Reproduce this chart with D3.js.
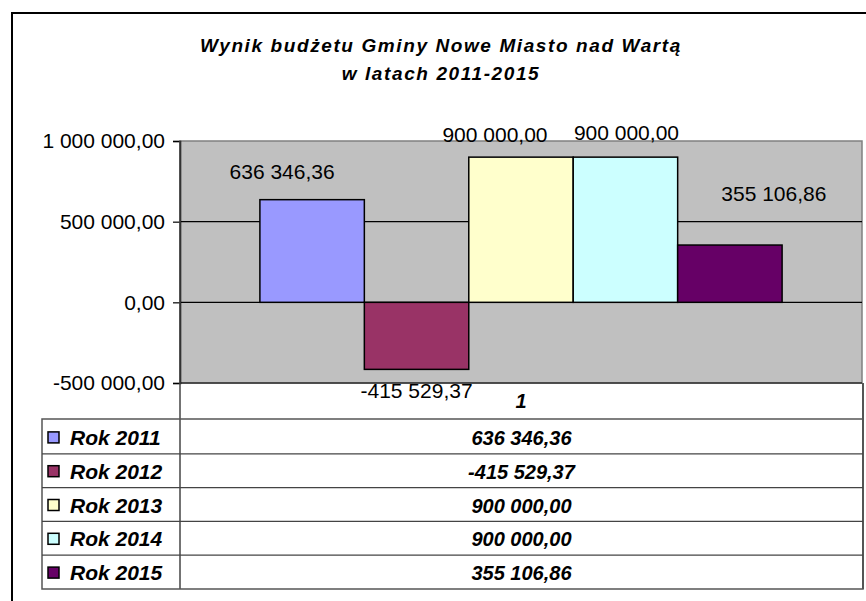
<!DOCTYPE html>
<meta charset="utf-8">
<script src="https://d3js.org/d3.v7.min.js"></script>
<style>
  body { margin: 0; background: #fff; }
  text { font-family: "Liberation Sans", Arial, sans-serif; }
</style>
<div id="chart"></div>
<script>
// data
var series = ["Rok 2011", "Rok 2012", "Rok 2013", "Rok 2014", "Rok 2015"];
var values = [636346.36, -415529.37, 900000.00, 900000.00, 355106.86];
var categories = ["1"];
var yTicks = [-500000, 0, 500000, 1000000];
var colors = ["#9999FF", "#993366", "#FFFFCC", "#CCFFFF", "#660066"];

// label nudges (dx, dy from bar end) - the labels were moved by hand in the original
var labelShift = [[-30, -21], [0, 29], [-26, -15], [1, -17], [44, -44]];

var W = 866, H = 601;
var plot = {left: 180, right: 862, top: 141, bottom: 383};

var pl = d3.formatLocale({decimal: ",", thousands: " ", grouping: [3], currency: ["", ""], minus: "-"});
var fmt = pl.format(",.2f");

var svg = d3.select("#chart").append("svg")
    .attr("width", W)
    .attr("height", H);

svg.append("rect").attr("width", W).attr("height", H).attr("fill", "#fff");

// chart frame (right and bottom run off the page)
svg.append("path")
    .attr("d", "M12,601 L12,13 L866,13")
    .attr("fill", "none")
    .attr("stroke", "#000")
    .attr("stroke-width", 2);

// title
var title = svg.append("text")
    .attr("text-anchor", "middle")
    .style("font-size", "19px")
    .style("font-weight", "bold")
    .style("font-style", "italic")
    .style("letter-spacing", "1.6px");
title.append("tspan").attr("x", 441).attr("y", 52).text("Wynik budżetu Gminy Nowe Miasto nad Wartą");
title.append("tspan").attr("x", 441).attr("y", 80).text("w latach 2011-2015");

// scales
var y = d3.scaleLinear()
    .domain([-500000, 1000000])
    .range([plot.bottom, plot.top]);

var x0 = d3.scaleBand()
    .domain(categories)
    .range([plot.left, plot.right])
    .paddingOuter(0.153)
    .paddingInner(0);

var x1 = d3.scaleBand()
    .domain(series)
    .range([0, x0.bandwidth()])
    .padding(0);

// plot area
svg.append("rect")
    .attr("x", plot.left)
    .attr("y", plot.top)
    .attr("width", plot.right - plot.left)
    .attr("height", plot.bottom - plot.top)
    .attr("fill", "#C0C0C0")
    .attr("stroke", "#808080")
    .attr("stroke-width", 1.5);

// gridlines
svg.selectAll(".grid")
  .data(yTicks.filter(function(d) { return d < 1000000; }))
  .enter()
  .append("line")
    .attr("x1", plot.left)
    .attr("x2", plot.right)
    .attr("y1", function(d) { return y(d); })
    .attr("y2", function(d) { return y(d); })
    .attr("stroke", "#000")
    .attr("stroke-width", 1.2);

// y axis
var yAxis = svg.append("g")
    .attr("transform", "translate(" + plot.left + ",0)")
    .call(d3.axisLeft(y).tickValues(yTicks).tickFormat(fmt).tickSize(7).tickPadding(8));
yAxis.select(".domain").attr("stroke", "#000").attr("stroke-width", 1.5);
yAxis.selectAll(".tick line").attr("stroke", "#000").attr("stroke-width", 1.2);
yAxis.selectAll("text")
    .style("font-size", "21px")
    .style("font-family", "'Liberation Sans', Arial, sans-serif")
    .attr("fill", "#000");

// bars
var g = svg.append("g").attr("transform", "translate(" + x0("1") + ",0)");
g.selectAll("rect")
  .data(values)
  .enter()
  .append("rect")
    .attr("x", function(d, i) { return x1(series[i]); })
    .attr("y", function(d) { return y(Math.max(0, d)); })
    .attr("width", x1.bandwidth())
    .attr("height", function(d) { return Math.abs(y(d) - y(0)); })
    .attr("fill", function(d, i) { return colors[i]; })
    .attr("stroke", "#000")
    .attr("stroke-width", 1.5);

// data labels
g.selectAll(".lbl")
  .data(values)
  .enter()
  .append("text")
    .attr("x", function(d, i) { return x1(series[i]) + x1.bandwidth() / 2 + labelShift[i][0]; })
    .attr("y", function(d, i) { return y(d) + labelShift[i][1]; })
    .attr("text-anchor", "middle")
    .style("font-size", "21px")
    .text(function(d) { return fmt(d); });

// category label
svg.append("text")
    .attr("x", x0("1") + x0.bandwidth() / 2)
    .attr("y", 408)
    .attr("text-anchor", "middle")
    .style("font-size", "20px")
    .style("font-weight", "bold")
    .style("font-style", "italic")
    .text(categories[0]);

// data table
var tbl = {left: 42, mid: 180, right: 863, top: 420, bottom: 589};
var row = d3.scaleBand()
    .domain(series)
    .range([tbl.top, tbl.bottom]);

// category axis box
svg.append("line").attr("x1", plot.left).attr("x2", plot.left)
    .attr("y1", plot.top).attr("y2", tbl.bottom)
    .attr("stroke", "#444").attr("stroke-width", 1.5);
svg.append("line").attr("x1", tbl.right).attr("x2", tbl.right)
    .attr("y1", plot.bottom).attr("y2", tbl.bottom)
    .attr("stroke", "#555").attr("stroke-width", 2);

svg.append("rect")
    .attr("x", tbl.left)
    .attr("y", tbl.top - 1)
    .attr("width", tbl.right - tbl.left)
    .attr("height", tbl.bottom - tbl.top + 1)
    .attr("fill", "none")
    .attr("stroke", "#555")
    .attr("stroke-width", 1.5);

svg.selectAll(".rowline")
  .data(series.slice(1))
  .enter()
  .append("line")
    .attr("x1", tbl.left)
    .attr("x2", tbl.right)
    .attr("y1", function(d) { return row(d); })
    .attr("y2", function(d) { return row(d); })
    .attr("stroke", "#444")
    .attr("stroke-width", 1.2);

// legend keys
svg.selectAll(".key")
  .data(series)
  .enter()
  .append("rect")
    .attr("x", 48)
    .attr("y", function(d) { return row(d) + row.bandwidth() / 2 - 5; })
    .attr("width", 11)
    .attr("height", 11)
    .attr("fill", function(d, i) { return colors[i]; })
    .attr("stroke", "#000")
    .attr("stroke-width", 1.5);

svg.selectAll(".rowname")
  .data(series)
  .enter()
  .append("text")
    .attr("x", 70)
    .attr("y", function(d) { return row(d) + row.bandwidth() / 2 + 8; })
    .style("font-size", "21px")
    .style("font-weight", "bold")
    .style("font-style", "italic")
    .text(function(d) { return d; });

svg.selectAll(".rowval")
  .data(values)
  .enter()
  .append("text")
    .attr("x", (tbl.mid + tbl.right) / 2)
    .attr("y", function(d, i) { return row(series[i]) + row.bandwidth() / 2 + 8; })
    .attr("text-anchor", "middle")
    .style("font-size", "20px")
    .style("font-weight", "bold")
    .style("font-style", "italic")
    .text(function(d) { return fmt(d); });
</script>
